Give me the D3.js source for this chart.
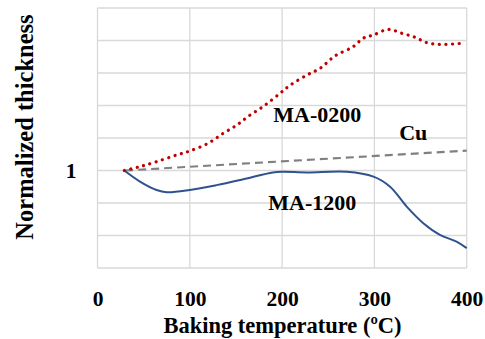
<!DOCTYPE html>
<html><head><meta charset="utf-8">
<script src="https://cdn.jsdelivr.net/npm/d3@7"></script>
<style>body{margin:0;background:#fff}svg{display:block}svg text{font-family:"Liberation Serif","Times New Roman",serif;font-weight:bold;fill:#000}</style>
</head><body>
<script>
const temps0200 = [29,46,64,86,100,120,136,151,163,180,198,209,227,241,257,277,288,299,315,330,344,357,371,393];
const vals0200  = [1.0,1.012,1.027,1.048,1.06,1.084,1.114,1.14,1.166,1.198,1.238,1.263,1.294,1.314,1.352,1.381,1.407,1.417,1.434,1.422,1.41,1.393,1.388,1.391];
const temps1200 = [29,46,64,75,100,129,158,190,201,227,270,299,317,335,353,371,389,400];
const vals1200  = [1.0,0.966,0.94,0.933,0.94,0.955,0.973,0.994,0.996,0.994,0.996,0.981,0.95,0.889,0.838,0.802,0.781,0.761];
const tempsCu = [30,400];
const valsCu  = [1.0,1.061];
const xTicks = [0,100,200,300,400];
const yGrid = [0.7,0.8,0.9,1.0,1.1,1.2,1.3,1.4,1.5];
const yLabels = [1];
const seriesLabels = [
  {text:"MA-0200", t:190.4, v:1.150},
  {text:"Cu", t:326.9, v:1.094},
  {text:"MA-1200", t:185, v:0.8785}
];

const W=485,H=339;
const m={l:97.5,r:18.3,t:8,b:71};
const svg=d3.select("body").append("svg").attr("width",W).attr("height",H);
const x=d3.scaleLinear().domain([0,400]).range([m.l,W-m.r]);
const y=d3.scaleLinear().domain([0.7,1.5]).range([H-m.b,m.t]);
const font='"Liberation Serif","Times New Roman",serif';

const g=svg.append("g");
g.selectAll(".hg").data(yGrid).join("line")
 .attr("x1",x(0)).attr("x2",x(400)).attr("y1",d=>y(d)).attr("y2",d=>y(d))
 .attr("stroke","#d9d9d9").attr("stroke-width",1.3);
g.selectAll(".vg").data(xTicks).join("line")
 .attr("y1",y(0.7)).attr("y2",y(1.5)).attr("x1",d=>x(d)).attr("x2",d=>x(d))
 .attr("stroke","#d9d9d9").attr("stroke-width",1.3);

const xAxis=svg.append("g").attr("transform",`translate(0,${y(0.7)})`)
 .call(d3.axisBottom(x).tickValues(xTicks).tickSize(0));
xAxis.select(".domain").remove();
xAxis.attr("font-family",null).attr("font-size",null);
xAxis.selectAll("text").style("font-family",font).style("font-size","21.5px")
 .attr("fill","#000").attr("y",38).attr("dy",0);

const yAxis=svg.append("g").attr("transform",`translate(${x(0)},0)`)
 .call(d3.axisLeft(y).tickValues(yLabels).tickFormat(d3.format("d")).tickSize(0).tickPadding(21));
yAxis.select(".domain").remove();
yAxis.attr("font-family",null).attr("font-size",null);
yAxis.selectAll("text").style("font-family",font).style("font-size","21.5px").attr("fill","#000");

const line=d3.line().x(d=>x(d[0])).y(d=>y(d[1])).curve(d3.curveCatmullRom);
svg.append("path").datum(d3.zip(tempsCu,valsCu)).attr("d",line)
 .attr("fill","none").attr("stroke","#808080").attr("stroke-width",2.2).attr("stroke-dasharray","8,5");
svg.append("path").datum(d3.zip(temps1200,vals1200)).attr("d",line)
 .attr("fill","none").attr("stroke","#2f528f").attr("stroke-width",2);
svg.append("path").datum(d3.zip(temps0200,vals0200)).attr("d",line)
 .attr("fill","none").attr("stroke","#c00000").attr("stroke-width",3.2)
 .attr("stroke-linecap","round").attr("stroke-dasharray","0.1,6.5");

svg.selectAll(".sl").data(seriesLabels).join("text")
 .attr("x",d=>x(d.t)).attr("y",d=>y(d.v))
 .style("font-family",font).style("font-size","22px")
 .text(d=>d.text);

svg.append("text").attr("x",282.5).attr("y",333)
 .attr("text-anchor","middle").style("font-family",font).style("font-size","22.5px")
 .text("Baking temperature (ºC)");
svg.append("text").attr("transform",`translate(33,127) rotate(-90)`)
 .attr("text-anchor","middle").style("font-family",font).style("font-size","24.5px")
 .text("Normalized thickness");
</script>
</body></html>
